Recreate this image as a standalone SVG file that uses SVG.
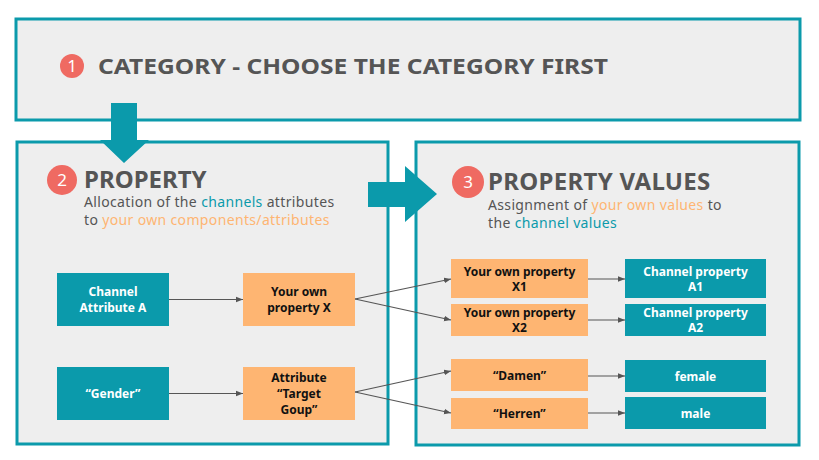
<svg xmlns="http://www.w3.org/2000/svg" width="819" height="460" viewBox="0 0 819 460">
<defs>
<style>
.panel{fill:#eeeeee;stroke:#0b9aab;stroke-width:3}
.teal{fill:#0b9aab}
.orange{fill:#feb572}
.badge{fill:#ef6a62}
.badgeT{font-family:"Noto Sans",sans-serif;font-size:17px;fill:#fff;text-anchor:middle}
.h{font-family:"Noto Sans",sans-serif;font-weight:700;fill:#555555}
.sub{font-family:"Noto Sans",sans-serif;font-size:14px;letter-spacing:0.35px;fill:#555555}
.ct{fill:#0b9aab}
.ot{fill:#feb572}
.nw{font-family:"Noto Sans",sans-serif;font-weight:700;font-size:12px;fill:#ffffff;text-anchor:middle}
.nb{font-family:"Noto Sans",sans-serif;font-weight:700;font-size:12px;fill:#111111;text-anchor:middle}
.conn{stroke:#555555;stroke-width:1.2;fill:none;marker-end:url(#ah)}
</style>
<marker id="ah" viewBox="0 0 10 10" refX="10" refY="5" markerWidth="7" markerHeight="7" orient="auto" markerUnits="userSpaceOnUse">
<path d="M0,1 L10,5 L0,9 z" fill="#555555"/>
</marker>
</defs>
<rect width="819" height="460" fill="#ffffff"/>

<g id="panel-category">
<rect class="panel" x="16" y="19" width="784" height="101"/>
<circle class="badge" cx="72" cy="66" r="12"/>
<text class="badgeT" x="72" y="72" font-size="15">1</text>
<text class="h" x="98" y="74" font-size="21" font-weight="600" textLength="510" lengthAdjust="spacingAndGlyphs">CATEGORY - CHOOSE THE CATEGORY FIRST</text>
</g>

<g id="panel-property">
<rect class="panel" x="17" y="142" width="371" height="302"/>
<circle class="badge" cx="62" cy="180" r="15"/>
<text class="badgeT" x="62" y="186">2</text>
<text class="h" x="84" y="188" font-size="24">PROPERTY</text>
<text class="sub" x="84" y="207">Allocation of the <tspan class="ct">channels</tspan> attributes</text>
<text class="sub" x="84" y="225">to <tspan class="ot">your own components/attributes</tspan></text>
</g>

<g id="panel-values">
<rect class="panel" x="416" y="142" width="383" height="303"/>
<circle class="badge" cx="468" cy="182" r="16"/>
<text class="badgeT" x="468" y="188">3</text>
<text class="h" x="488" y="190" font-size="24" letter-spacing="0.3">PROPERTY VALUES</text>
<text class="sub" x="488" y="210">Assignment of <tspan class="ot">your own values</tspan> to</text>
<text class="sub" x="488" y="228">the <tspan class="ct">channel values</tspan></text>
</g>

<g id="arrow-down">
<path class="teal" d="M111,103 H137 V140 H149 L124,163 L100,140 H111 Z"/>
</g>
<g id="arrow-right">
<path class="teal" d="M368,182 H405 V166 L437,194 L405,222 V207 H368 Z"/>
</g>

<g id="node-channel-attr-a">
<rect class="teal" x="57" y="273" width="112" height="53"/>
<text class="nw" x="113" y="296">Channel</text>
<text class="nw" x="113" y="312">Attribute A</text>
</g>
<g id="node-own-prop-x">
<rect class="orange" x="243" y="273" width="112" height="53"/>
<text class="nb" x="299" y="296">Your own</text>
<text class="nb" x="299" y="312">property X</text>
</g>
<g id="node-gender">
<rect class="teal" x="57" y="367" width="112" height="53"/>
<text class="nw" x="113" y="398">“Gender”</text>
</g>
<g id="node-target-group">
<rect class="orange" x="243" y="367" width="112" height="53"/>
<text class="nb" x="299" y="382">Attribute</text>
<text class="nb" x="299" y="398">“Target</text>
<text class="nb" x="299" y="414">Goup”</text>
</g>
<g id="node-x1">
<rect class="orange" x="451" y="259" width="137" height="39"/>
<text class="nb" x="519.5" y="276">Your own property</text>
<text class="nb" x="519.5" y="291">X1</text>
</g>
<g id="node-x2">
<rect class="orange" x="451" y="304" width="137" height="32"/>
<text class="nb" x="519.5" y="317">Your own property</text>
<text class="nb" x="519.5" y="332">X2</text>
</g>
<g id="node-a1">
<rect class="teal" x="625" y="259" width="141" height="39"/>
<text class="nw" x="695.5" y="276">Channel property</text>
<text class="nw" x="695.5" y="291">A1</text>
</g>
<g id="node-a2">
<rect class="teal" x="625" y="304" width="141" height="32"/>
<text class="nw" x="695.5" y="317">Channel property</text>
<text class="nw" x="695.5" y="332">A2</text>
</g>
<g id="node-damen">
<rect class="orange" x="451" y="359" width="137" height="32"/>
<text class="nb" x="519.5" y="380">“Damen”</text>
</g>
<g id="node-herren">
<rect class="orange" x="451" y="398" width="137" height="31"/>
<text class="nb" x="519.5" y="418">“Herren”</text>
</g>
<g id="node-female">
<rect class="teal" x="625" y="360" width="141" height="32"/>
<text class="nw" x="695.5" y="381">female</text>
</g>
<g id="node-male">
<rect class="teal" x="625" y="397" width="141" height="32"/>
<text class="nw" x="695.5" y="418">male</text>
</g>

<g id="connectors">
<line class="conn" x1="169" y1="299.5" x2="243" y2="299.5"/>
<line class="conn" x1="169" y1="393.5" x2="243" y2="393.5"/>
<line class="conn" x1="355" y1="299" x2="451" y2="279"/>
<line class="conn" x1="355" y1="299" x2="451" y2="320"/>
<line class="conn" x1="355" y1="392" x2="451" y2="371"/>
<line class="conn" x1="355" y1="392" x2="451" y2="413"/>
<line class="conn" x1="588" y1="279" x2="625" y2="279"/>
<line class="conn" x1="588" y1="320" x2="625" y2="320"/>
<line class="conn" x1="588" y1="376" x2="625" y2="376"/>
<line class="conn" x1="588" y1="413" x2="625" y2="413"/>
</g>
</svg>
